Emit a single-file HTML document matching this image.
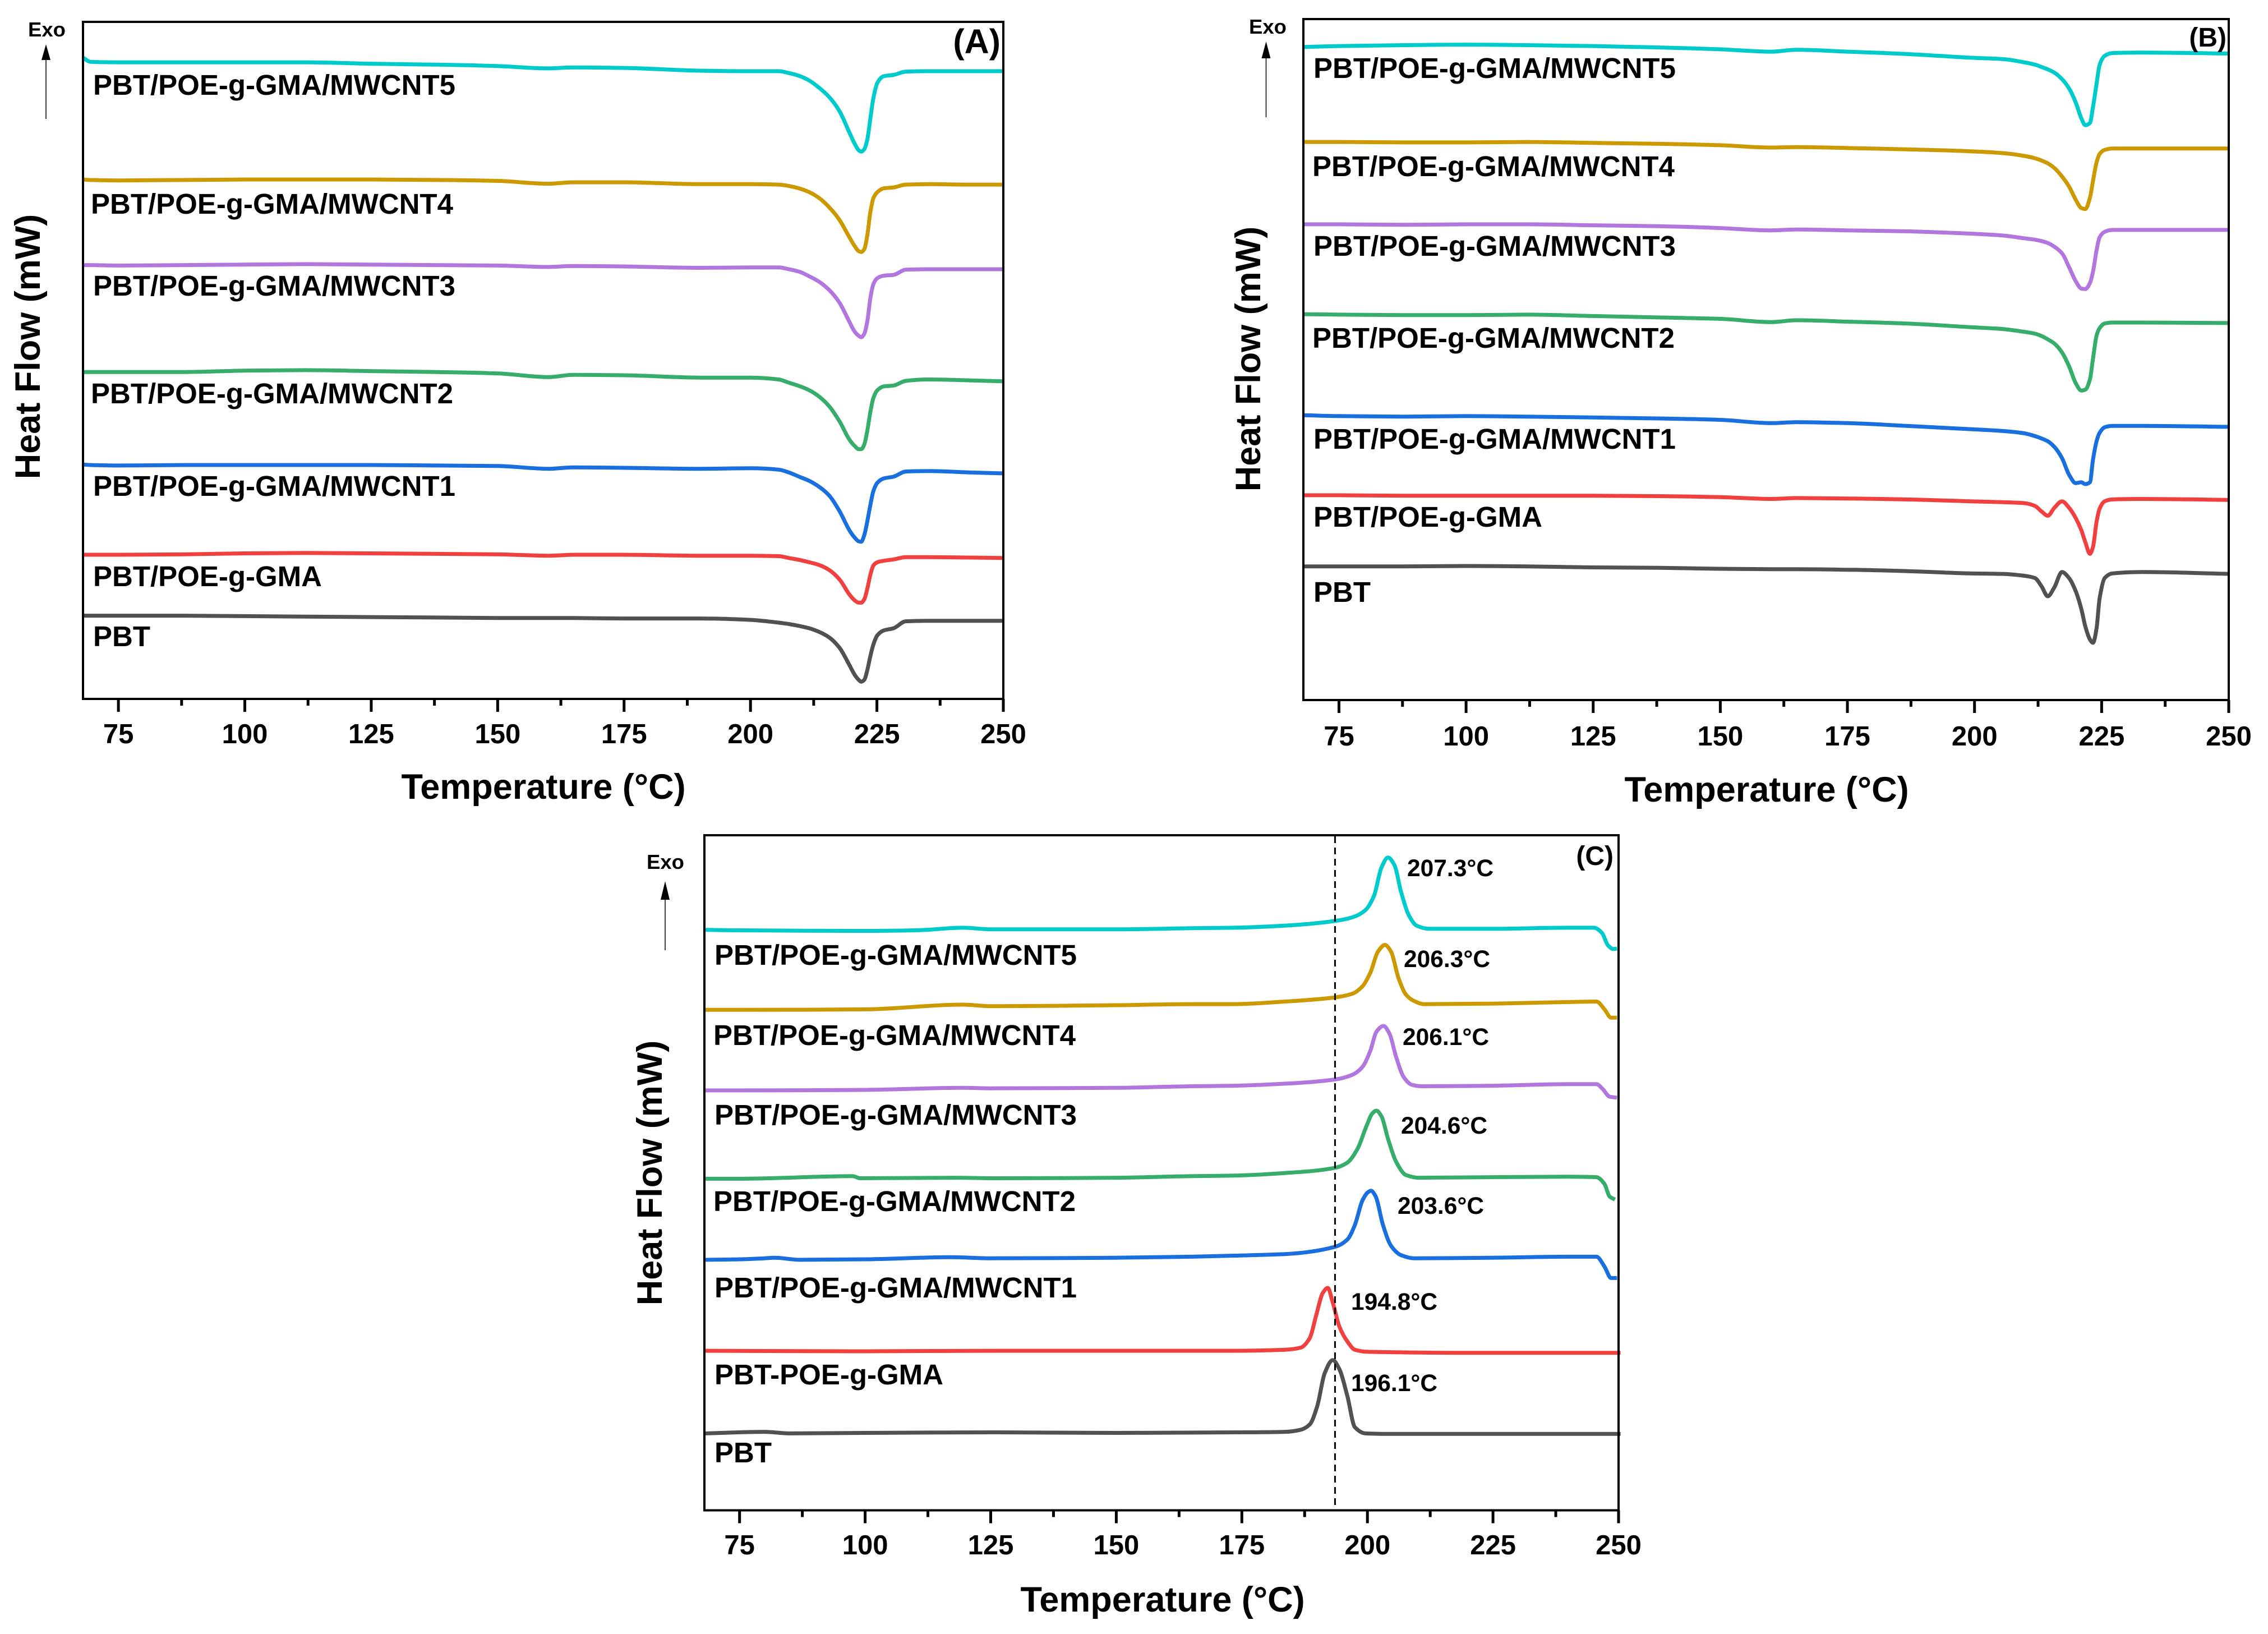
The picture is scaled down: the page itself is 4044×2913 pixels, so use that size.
<!DOCTYPE html>
<html lang="en">
<head>
<meta charset="utf-8">
<title>DSC thermograms of PBT nanocomposites</title>
<style>
html,body{margin:0;padding:0;background:#fff;}
svg{display:block;}
text{font-family:"Liberation Sans",Arial,sans-serif;font-weight:bold;fill:#000;}
.lbl{font-size:51px;}
.tick{font-size:49px;text-anchor:middle;}
.title{font-size:63px;text-anchor:middle;}
.exo{font-size:36.5px;}
.temp{font-size:42.5px;}
</style>
</head>
<body>
<svg xmlns="http://www.w3.org/2000/svg" width="4044" height="2913" viewBox="0 0 4044 2913">
<rect x="0" y="0" width="4044" height="2913" fill="#fff"/>

<g id="panel-a">
  <g id="curves-a"></g>
  <rect x="148" y="39" width="1641" height="1207" fill="none" stroke="#000" stroke-width="4"/>
  <g id="ticks-a"></g>
  <text class="title" x="969" y="1424">Temperature (°C)</text>
  <text class="title" transform="translate(71,618) rotate(-90)">Heat Flow (mW)</text>
  <text x="1784" y="95" text-anchor="end" style="font-size:61px">(A)</text>
  <text class="exo" x="50" y="65">Exo</text>
  <line x1="82" y1="212" x2="82" y2="100" stroke="#000" stroke-width="1.5"/>
  <polygon points="82,79 74,107 90,107" fill="#000"/>
  <text class="lbl" x="166" y="169">PBT/POE-g-GMA/MWCNT5</text>
  <text class="lbl" x="162" y="381">PBT/POE-g-GMA/MWCNT4</text>
  <text class="lbl" x="166" y="527">PBT/POE-g-GMA/MWCNT3</text>
  <text class="lbl" x="162" y="719">PBT/POE-g-GMA/MWCNT2</text>
  <text class="lbl" x="166" y="884">PBT/POE-g-GMA/MWCNT1</text>
  <text class="lbl" x="166" y="1045">PBT/POE-g-GMA</text>
  <text class="lbl" x="166" y="1152">PBT</text>
</g>

<g id="panel-b">
  <g id="curves-b"></g>
  <rect x="2324" y="34" width="1650" height="1214" fill="none" stroke="#000" stroke-width="4"/>
  <g id="ticks-b"></g>
  <text class="title" x="3150" y="1429">Temperature (°C)</text>
  <text class="title" transform="translate(2247,640) rotate(-90)">Heat Flow (mW)</text>
  <text x="3970" y="83" text-anchor="end" style="font-size:48px">(B)</text>
  <text class="exo" x="2227" y="60">Exo</text>
  <line x1="2257.5" y1="209" x2="2257.5" y2="95" stroke="#000" stroke-width="1.5"/>
  <polygon points="2257.5,74 2249.5,104 2265.5,104" fill="#000"/>
  <text class="lbl" x="2342" y="139">PBT/POE-g-GMA/MWCNT5</text>
  <text class="lbl" x="2340" y="314">PBT/POE-g-GMA/MWCNT4</text>
  <text class="lbl" x="2342" y="456">PBT/POE-g-GMA/MWCNT3</text>
  <text class="lbl" x="2340" y="620">PBT/POE-g-GMA/MWCNT2</text>
  <text class="lbl" x="2342" y="800">PBT/POE-g-GMA/MWCNT1</text>
  <text class="lbl" x="2342" y="939">PBT/POE-g-GMA</text>
  <text class="lbl" x="2342" y="1073">PBT</text>
</g>

<g id="panel-c">
  <g id="curves-c"></g>
  <rect x="1256" y="1489" width="1630" height="1203.5" fill="none" stroke="#000" stroke-width="4"/>
  <g id="ticks-c"></g>
  <text class="title" x="2073" y="2873">Temperature (°C)</text>
  <text class="title" transform="translate(1180,2091) rotate(-90)">Heat Flow (mW)</text>
  <text x="2877" y="1542" text-anchor="end" style="font-size:48px">(C)</text>
  <text class="exo" x="1153" y="1549">Exo</text>
  <line x1="1186" y1="1694" x2="1186" y2="1595" stroke="#000" stroke-width="1.5"/>
  <polygon points="1186,1571 1178,1604 1194,1604" fill="#000"/>
  <text class="lbl" x="1274" y="1720">PBT/POE-g-GMA/MWCNT5</text>
  <text class="lbl" x="1272" y="1863">PBT/POE-g-GMA/MWCNT4</text>
  <text class="lbl" x="1274" y="2005">PBT/POE-g-GMA/MWCNT3</text>
  <text class="lbl" x="1272" y="2159">PBT/POE-g-GMA/MWCNT2</text>
  <text class="lbl" x="1274" y="2313">PBT/POE-g-GMA/MWCNT1</text>
  <text class="lbl" x="1274" y="2468">PBT-POE-g-GMA</text>
  <text class="lbl" x="1274" y="2607">PBT</text>
  <text class="temp" x="2509" y="1562">207.3°C</text>
  <text class="temp" x="2503" y="1724">206.3°C</text>
  <text class="temp" x="2501" y="1863">206.1°C</text>
  <text class="temp" x="2498" y="2021">204.6°C</text>
  <text class="temp" x="2492" y="2164">203.6°C</text>
  <text class="temp" x="2409" y="2335">194.8°C</text>
  <text class="temp" x="2409" y="2480">196.1°C</text>
</g>

<script>
const colors = { pbt:'#515151', gma:'#F14040', c1:'#1A6FDF', c2:'#37AD6B', c3:'#B177DE', c4:'#CC9900', c5:'#00CBCC' };
const majorTicks = [75,100,125,150,175,200,225,250];
const minorTicks = [87.5,112.5,137.5,162.5,187.5,212.5,237.5];
const crystallizationOnset = [193.55];

/* Panel A: second-stage melting */
const tempA = [68,69.5,75,88,100,112,125,138,150,160,165,175,190,200,205.6,207.6,209.6,211.6,213.6,215.6,217.6,219.6,220.6,221.4,221.9,222.5,223.1,223.7,224.3,225.1,226.3,228.3,230.7,235.4,243.4,250];
const flowA_c5 = [1379,1370,1369,1369,1369,1369,1366,1364,1361,1356,1358,1357,1351,1350,1350,1346,1340,1330,1314,1294,1264,1217,1194,1180,1177,1182,1203,1248,1292,1325,1339,1342,1349,1350,1350,1350];
const flowA_c4 = [1117,1116,1115,1116,1117,1117,1117,1116,1114,1108,1111,1111,1107,1107,1106,1103,1098,1090,1077,1057,1030,992,974,963,961,967,997,1047,1077,1090,1098,1100,1106,1107,1106,1106];
const flowA_c3 = [933,933,932,933,934,935,934,933,932,929,931,930,927,928,928,924,919,909,897,879,852,810,790,781,778,785,812,862,892,905,910,912,923,924,924,924];
const flowA_c2 = [703,703,703,703,706,707,705,703,700,692,697,696,691,691,687,680,673,664,650,629,597,557,544,537,537,547,577,617,647,664,672,674,684,687,685,683];
const flowA_c1 = [504,503,502,503,503,503,503,502,501,495,498,497,495,496,493,487,478,469,456,437,404,362,347,339,338,352,382,417,447,465,474,478,489,490,487,485];
const flowA_gma = [310,310,310,311,313,314,313,312,311,308,310,310,308,308,307,303,299,294,288,277,257,224,212,207,207,214,237,267,287,294,297,300,305,305,304,303];
const flowA_pbt = [179,179,179,179,178,177,176,175,174,174,174,173,173,170,164,161,157,152,144,132,110,72,52,41,37,41,62,92,117,137,147,152,167,168,168,168];

/* Panel B: first-stage melting */
const tempB = [68,75,88,100,112,125,138,150,160,165,175,186.6,199.2,205.6,209.8,211.9,213.2,214.4,215.7,217.2,218.6,219.9,221,221.8,222.7,223.3,224,224.6,225.6,227.1,233,250];
const flowB_c5 = [1403,1405,1407,1408,1407,1405,1402,1398,1393,1397,1393,1388,1380,1377,1370,1365,1360,1355,1348,1334,1314,1284,1250,1235,1240,1274,1324,1364,1384,1390,1391,1389];
const flowB_c4 = [1199,1199,1198,1198,1199,1197,1195,1192,1187,1188,1186,1183,1179,1175,1169,1164,1159,1153,1143,1125,1103,1075,1057,1055,1079,1115,1155,1173,1182,1185,1185,1185];
const flowB_c3 = [1022,1022,1021,1022,1022,1020,1018,1014,1009,1011,1009,1007,1002,998,992,989,986,982,974,960,930,900,884,883,896,920,966,994,1006,1010,1010,1010];
const flowB_c2 = [829,828,827,827,828,825,822,819,812,816,813,809,801,797,791,787,782,775,766,747,717,681,665,667,689,733,783,799,809,811,811,810];
const flowB_c1 = [612,610,609,610,609,607,605,602,595,597,595,589,582,578,573,567,562,556,544,520,484,466,468,464,468,516,556,574,586,589,589,587];
const flowB_gma = [440,440,439,439,439,439,438,436,432,434,433,431,427,425,423,417,405,396,413,427,413,391,365,339,314,329,383,411,427,431,432,430];
const flowB_pbt = [287,287,287,288,287,285,284,282,281,281,280,277,272,271,267,262,244,223,242,275,262,234,196,158,130,123,154,218,262,272,275,271];

/* Panel C: crystallization */
const tempC_c5 = [68,75,100,110,119.5,125,150,165,173.35,183.6,193.55,197,199.5,201.3,202.8,204.1,205.4,206.7,208.2,209.8,212.3,224.6,240,245.1,246.7,247.9,249,249.7];
const flowC_c5 = [1117,1116,1115,1116,1121,1118,1118,1120,1121,1125,1134,1141,1154,1182,1237,1256,1241,1190,1146,1125,1119,1119,1121,1121,1111,1087,1080,1081];
const tempC_c4 = [68,75,100,119.5,125,150,165,173.35,183.6,193.55,197,199,200.6,202.1,203.5,204.7,206.2,207.7,209.3,211.3,224.6,240,245.6,247.2,248.5,249.7];
const flowC_c4 = [963,963,964,973,970,972,974,974,979,987,994,1008,1035,1075,1088,1075,1024,992,980,974,975,978,979,964,948,948];
const tempC_c3 = [68,75,100,119.5,125,150,165,173.35,183.6,193.55,197,199,200.6,201.8,203.2,204.4,205.7,207.2,208.8,210.8,224.6,240,245.6,246.9,248.2,249.7];
const flowC_c3 = [808,808,809,813,812,813,816,817,821,829,838,853,885,921,932,917,873,834,819,816,817,820,820,810,796,794];
const tempC_c2 = [68,75,97.5,99,119,125,150,165,173.35,183.6,193.55,196,198,199.8,201,201.8,202.8,204.1,205.7,207.7,210.3,224.6,240,245.6,247.2,248.2,249.3];
const flowC_c2 = [638,638,643,639,640,639,640,643,644,649,659,669,695,739,764,769,758,715,671,645,640,641,642,641,628,604,598];
const tempC_c1 = [68,75,80,82,87,100,117,125,150,165,173.35,183.6,193.55,196,197.5,199,200.1,200.7,201.6,203.1,204.7,206.7,209.3,224.6,240,245.6,247.2,248.5,249.7];
const flowC_c1 = [482,483,485,486,482,483,487,485,486,488,490,493,507,521,549,596,612,615,605,549,509,491,485,486,488,488,469,447,447];
const tempC_gma = [68,100,125,150,173.35,183.6,186.7,188.5,189.8,191.1,192.1,193.1,194.4,196,197.5,200.1,224.6,250.4];
const flowC_gma = [307,306,307,307,307,309,313,331,375,418,428,400,354,325,309,305,303,303];
const tempC_pbt = [68,80,85,100,125,150,173.35,183.6,186.7,188.5,190,191.5,193.1,194.4,196,197.5,199.6,204.2,224.6,250.4];
const flowC_pbt = [148,151,148,149,150,149,150,151,155,165,200,264,289,272,220,160,148,147,147,147];

const NS = 'http://www.w3.org/2000/svg';
function make(tag, attrs, parent){
  const el = document.createElementNS(NS, tag);
  for (const k in attrs) el.setAttribute(k, attrs[k]);
  parent.appendChild(el);
  return el;
}
function scaleLinear(d0, d1, r0, r1){
  return v => r0 + (v - d0) / (d1 - d0) * (r1 - r0);
}
/* monotone cubic path through data points */
function curvePath(xs, ys){
  const n = xs.length, dx = [], m = [], t = [];
  for (let i = 0; i < n - 1; i++){ dx[i] = xs[i+1] - xs[i]; m[i] = (ys[i+1] - ys[i]) / dx[i]; }
  t[0] = m[0]; t[n-1] = m[n-2];
  for (let i = 1; i < n - 1; i++){
    if (m[i-1] * m[i] <= 0) t[i] = 0;
    else {
      const w1 = 2 * dx[i] + dx[i-1], w2 = dx[i] + 2 * dx[i-1];
      t[i] = (w1 + w2) / (w1 / m[i-1] + w2 / m[i]);
    }
  }
  let d = 'M' + xs[0].toFixed(1) + ' ' + ys[0].toFixed(1);
  for (let i = 0; i < n - 1; i++){
    const h = dx[i] / 3;
    d += 'C' + (xs[i] + h).toFixed(1) + ' ' + (ys[i] + t[i] * h).toFixed(1) + ' ' +
         (xs[i+1] - h).toFixed(1) + ' ' + (ys[i+1] - t[i+1] * h).toFixed(1) + ' ' +
         xs[i+1].toFixed(1) + ' ' + ys[i+1].toFixed(1);
  }
  return d;
}
function drawAxis(id, prefix, xScale, axisY, labelY){
  const g = document.getElementById(id);
  majorTicks.forEach(v => {
    const t = make('line', {x1:xScale(v), x2:xScale(v), y1:axisY, y2:axisY+23, stroke:'#000', 'stroke-width':5}, g);
    
    
    const l = make('text', {x:xScale(v), y:labelY, class:'tick'}, g);
    l.textContent = String(v);
    
    
  });
  minorTicks.forEach(v => {
    const t = make('line', {x1:xScale(v), x2:xScale(v), y1:axisY, y2:axisY+12, stroke:'#000', 'stroke-width':5}, g);
    
    
  });
}
function drawCurve(id, prefix, key, temps, flows, xScale, yScale){
  const g = document.getElementById(id);
  const p = make('path', {
    d: curvePath(temps.map(xScale), flows.map(yScale)),
    fill: 'none', stroke: colors[key], 'stroke-width': 7, 'stroke-linejoin': 'round'
  }, g);
  
  
}

const xA = scaleLinear(68, 250, 148, 1789);
const yA = scaleLinear(0, 1456, 1246, 39);
const xB = scaleLinear(68, 250, 2324, 3974);
const yB = scaleLinear(0, 1463, 1248, 34);
const xC = scaleLinear(68, 250, 1256, 2886);
const yC = scaleLinear(0, 1299, 2692.5, 1489);

drawAxis('ticks-a', 'panel-a', xA, 1246, 1325);
drawAxis('ticks-b', 'panel-b', xB, 1248, 1329);
drawAxis('ticks-c', 'panel-c', xC, 2692.5, 2771);

drawCurve('curves-a', 'panel-a', 'pbt', tempA, flowA_pbt, xA, yA);
drawCurve('curves-a', 'panel-a', 'gma', tempA, flowA_gma, xA, yA);
drawCurve('curves-a', 'panel-a', 'c1', tempA, flowA_c1, xA, yA);
drawCurve('curves-a', 'panel-a', 'c2', tempA, flowA_c2, xA, yA);
drawCurve('curves-a', 'panel-a', 'c3', tempA, flowA_c3, xA, yA);
drawCurve('curves-a', 'panel-a', 'c4', tempA, flowA_c4, xA, yA);
drawCurve('curves-a', 'panel-a', 'c5', tempA, flowA_c5, xA, yA);

drawCurve('curves-b', 'panel-b', 'pbt', tempB, flowB_pbt, xB, yB);
drawCurve('curves-b', 'panel-b', 'gma', tempB, flowB_gma, xB, yB);
drawCurve('curves-b', 'panel-b', 'c1', tempB, flowB_c1, xB, yB);
drawCurve('curves-b', 'panel-b', 'c2', tempB, flowB_c2, xB, yB);
drawCurve('curves-b', 'panel-b', 'c3', tempB, flowB_c3, xB, yB);
drawCurve('curves-b', 'panel-b', 'c4', tempB, flowB_c4, xB, yB);
drawCurve('curves-b', 'panel-b', 'c5', tempB, flowB_c5, xB, yB);

drawCurve('curves-c', 'panel-c', 'pbt', tempC_pbt, flowC_pbt, xC, yC);
drawCurve('curves-c', 'panel-c', 'gma', tempC_gma, flowC_gma, xC, yC);
drawCurve('curves-c', 'panel-c', 'c1', tempC_c1, flowC_c1, xC, yC);
drawCurve('curves-c', 'panel-c', 'c2', tempC_c2, flowC_c2, xC, yC);
drawCurve('curves-c', 'panel-c', 'c3', tempC_c3, flowC_c3, xC, yC);
drawCurve('curves-c', 'panel-c', 'c4', tempC_c4, flowC_c4, xC, yC);
drawCurve('curves-c', 'panel-c', 'c5', tempC_c5, flowC_c5, xC, yC);

const onsetLine = make('line', {
  x1: xC(crystallizationOnset[0]), x2: xC(crystallizationOnset[0]), y1: 1491, y2: 2691,
  stroke: '#000', 'stroke-width': 3, 'stroke-dasharray': '12 8'
}, document.getElementById('curves-c'));


</script>
</svg>
</body>
</html>
